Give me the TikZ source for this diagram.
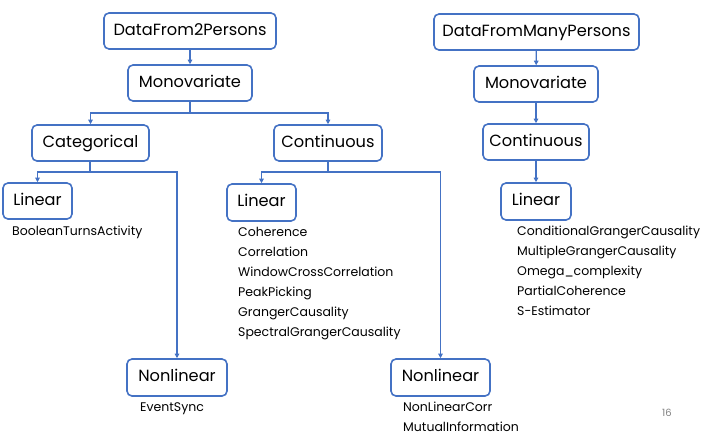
\documentclass[tikz,border=0pt]{standalone}
\usepackage{fontspec}
\setmainfont{Poppins}
\usetikzlibrary{arrows.meta}
\definecolor{lineblue}{RGB}{68,114,196}
\tikzset{
  box/.style={draw=lineblue, line width=1.6pt, rounded corners=5pt, inner sep=0pt,
    font=\fontsize{16.2}{19}\selectfont, text height=11.5pt, text depth=3pt},
  item/.style={anchor=west, inner sep=0pt, font=\fontsize{12.5}{14}\selectfont,
    text height=9pt, text depth=3pt},
  arr/.style={draw=lineblue, line width=1.3pt, -{Triangle[length=4.5pt,width=4.5pt]}},
  conn/.style={draw=lineblue, line width=1.3pt}
}
\begin{document}
\begin{tikzpicture}[x=1pt,y=-1pt]
\useasboundingbox (0,0) rectangle (720,440);
% left tree
\node[box, minimum width=172pt, minimum height=36pt] (d2) at (190,31) {DataFrom2Persons};
\node[box, minimum width=124pt, minimum height=36pt] (m1) at (190,83) {Monovariate};
\node[box, minimum width=117pt, minimum height=36pt] (cat) at (90.5,143) {Categorical};
\node[box, minimum width=108pt, minimum height=36pt] (con1) at (328,143) {Continuous};
\node[box, minimum width=69pt, minimum height=36pt] (lin1) at (37.5,201) {Linear};
\node[box, minimum width=100pt, minimum height=37pt] (nl1) at (177,377.5) {Nonlinear};
\node[box, minimum width=69pt, minimum height=37pt] (lin2) at (261.5,202.5) {Linear};
\node[box, minimum width=99pt, minimum height=37pt] (nl2) at (440.5,377.5) {Nonlinear};
% right tree
\node[box, minimum width=205pt, minimum height=36pt] (dm) at (536.5,32) {DataFromManyPersons};
\node[box, minimum width=124pt, minimum height=36pt] (m2) at (536,84) {Monovariate};
\node[box, minimum width=106pt, minimum height=36pt] (con2) at (536,142) {Continuous};
\node[box, minimum width=70pt, minimum height=37pt] (lin3) at (536,201.5) {Linear};
% junctions
\coordinate (j1) at (190,113);
\coordinate (j2) at (90,172);
\coordinate (j3) at (328,172);
% connectors
\draw[arr] (d2) -- (m1);
\draw[conn] (m1) -- (j1);
\draw[arr] (j1) -| (cat);
\draw[arr] (j1) -| (con1);
\draw[conn] (cat.south -| j2) -- (j2);
\draw[arr] (j2) -| (lin1);
\draw[arr] (j2) -| (nl1);
\draw[conn] (con1) -- (j3);
\draw[arr] (j3) -| (lin2);
\draw[arr] (j3) -| (nl2);
\draw[arr] (dm) -- (m2);
\draw[arr] (m2) -- (con2);
\draw[arr] (con2) -- (lin3);
% items
\node[item] (t1) at (12,232) {BooleanTurnsActivity};
\node[item] (t2) at (140,408) {EventSync};
\node[item] (c1) at (238,233) {Coherence};
\node[item] (c2) at (238,253) {Correlation};
\node[item] (c3) at (238,273) {WindowCrossCorrelation};
\node[item] (c4) at (238,293) {PeakPicking};
\node[item] (c5) at (238,313) {GrangerCausality};
\node[item] (c6) at (238,333) {SpectralGrangerCausality};
\node[item] (n1) at (403,408) {NonLinearCorr};
\node[item] (n2) at (403,428) {MutualInformation};
\node[item] (r1) at (517,232) {ConditionalGrangerCausality};
\node[item] (r2) at (517,252) {MultipleGrangerCausality};
\node[item] (r3) at (517,272) {Omega\_complexity};
\node[item] (r4) at (517,292) {PartialCoherence};
\node[item] (r5) at (517,312) {S-Estimator};
\node[item, text=gray, font=\fontsize{10}{12}\selectfont] (pg) at (662,413) {16};
\end{tikzpicture}
\end{document}
